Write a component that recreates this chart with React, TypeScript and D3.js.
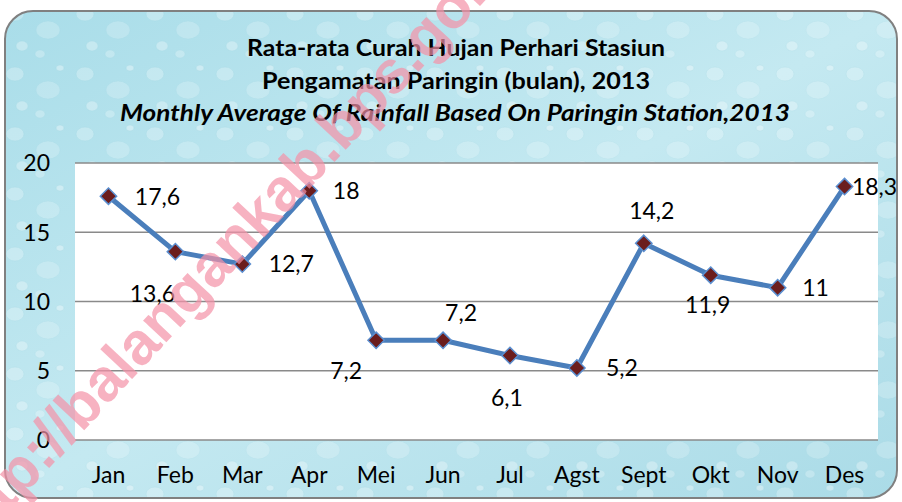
import React from "react";
import * as d3 from "d3";

const months = ["Jan", "Feb", "Mar", "Apr", "Mei", "Jun", "Jul", "Agst", "Sept", "Okt", "Nov", "Des"];
const rainfall = [17.6, 13.6, 12.7, 18, 7.2, 7.2, 6.1, 5.2, 14.2, 11.9, 11, 18.3];
const yTicks = [0, 5, 10, 15, 20];
const titleLines = [
  "Rata-rata Curah Hujan Perhari Stasiun",
  "Pengamatan Paringin (bulan), 2013",
];
const subtitle = "Monthly Average Of Rainfall Based On Paringin Station,2013";
const watermark = "http://balangankab.bps.go.id";

// label placement (layout only): offset of label centre from its point
const labelOffsets: [number, number][] = [
  [49, 0], [-23, 42], [49, 0], [37, 0], [-30, 30], [18, -28],
  [-3, 42], [45, 0], [8, -33], [-3, 30], [38, 0], [30, 0],
];

const W = 902;
const H = 502;
const plot = { left: 75, right: 878, top: 163, bottom: 440 };
const FONT = "Lato, 'Open Sans', sans-serif";

export default function App() {
  const x = d3.scaleBand<string>().domain(months).range([plot.left, plot.right]);
  const y = d3.scaleLinear().domain([0, 20]).range([plot.bottom, plot.top]);
  const cx = (m: string) => (x(m) as number) + x.bandwidth() / 2;
  const line = d3
    .line<number>()
    .x((_, i) => cx(months[i]))
    .y((d) => y(d));
  const fmt = (v: number) => String(v).replace(".", ",");
  const diamond = d3.symbol().type(d3.symbolDiamond2).size(170)();

  return (
    <svg
      width={W}
      height={H}
      style={{ position: "absolute", left: 0, top: 0, background: "#ffffff" }}
      fontFamily={FONT}
    >
      <defs>
        <linearGradient id="bg" x1="0" y1="0" x2="1" y2="1">
          <stop offset="0" stopColor="#a9dde9" />
          <stop offset="0.5" stopColor="#c4e9f1" />
          <stop offset="1" stopColor="#aadbe7" />
        </linearGradient>
        <pattern id="drops" width="70" height="60" patternUnits="userSpaceOnUse">
          <ellipse cx="15" cy="14" rx="9" ry="7" fill="#ffffff" opacity="0.25" stroke="#88c6d4" strokeOpacity="0.45" />
          <ellipse cx="48" cy="30" rx="12" ry="9" fill="#ffffff" opacity="0.2" stroke="#88c6d4" strokeOpacity="0.4" />
          <ellipse cx="22" cy="46" rx="6" ry="5" fill="#ffffff" opacity="0.3" stroke="#88c6d4" strokeOpacity="0.4" />
          <ellipse cx="60" cy="8" rx="4" ry="3" fill="#ffffff" opacity="0.35" stroke="#88c6d4" strokeOpacity="0.4" />
          <ellipse cx="40" cy="54" rx="5" ry="4" fill="#ffffff" opacity="0.25" stroke="#88c6d4" strokeOpacity="0.35" />
        </pattern>
      </defs>

      <rect x={5} y={11} width={892} height={487} rx={28} fill="url(#bg)" />
      <rect x={5} y={11} width={892} height={487} rx={28} fill="url(#drops)" />
      <rect x={5} y={11} width={892} height={487} rx={28} fill="none" stroke="#808080" strokeWidth={2} />

      {/* titles */}
      <text x={456} y={56} textAnchor="middle" fontWeight="bold" fontSize={23} fill="#000"
        textLength={418} lengthAdjust="spacingAndGlyphs">
        {titleLines[0]}
      </text>
      <text x={456} y={89} textAnchor="middle" fontWeight="bold" fontSize={23} fill="#000"
        textLength={388} lengthAdjust="spacingAndGlyphs">
        {titleLines[1]}
      </text>
      <text x={455} y={121} textAnchor="middle" fontWeight="bold" fontStyle="italic" fontSize={23} fill="#000"
        textLength={670} lengthAdjust="spacingAndGlyphs">
        {subtitle}
      </text>

      {/* plot area */}
      <rect x={plot.left} y={plot.top} width={plot.right - plot.left} height={plot.bottom - plot.top} fill="#ffffff" />
      {yTicks.map((t) => (
        <g key={t}>
          <line x1={plot.left} x2={plot.right} y1={y(t)} y2={y(t)} stroke="#8a8a8a" strokeWidth={1.6} />
          <text x={50} y={y(t)} dy="0.36em" textAnchor="end" fontSize={23} fill="#000">
            {t}
          </text>
        </g>
      ))}
      {months.map((m) => (
        <text key={m} x={cx(m)} y={483} textAnchor="middle" fontSize={23} fill="#000">
          {m}
        </text>
      ))}

      <path d={line(rainfall) || ""} fill="none" stroke="#4a7ebb" strokeWidth={5} strokeLinejoin="round" />
      {rainfall.map((v, i) => (
        <path
          key={i}
          d={diamond || ""}
          transform={`translate(${cx(months[i])},${y(v)})`}
          fill="#6b1d1d"
          stroke="#5b8fd0"
          strokeWidth={1.5}
        />
      ))}
      {rainfall.map((v, i) => (
        <text
          key={i}
          x={cx(months[i]) + labelOffsets[i][0]}
          y={y(v) + labelOffsets[i][1]}
          dy="0.36em"
          textAnchor="middle"
          fontSize={23}
          fill="#000"
        >
          {fmt(v)}
        </text>
      ))}

      {/* watermark */}
      <text
        transform="translate(-32,555) rotate(-47)"
        fontFamily="'Liberation Sans', Arial, sans-serif"
        fontWeight="bold"
        fontSize={60}
        fill="#f592a8"
        opacity={0.7}
      >
        {watermark}
      </text>
    </svg>
  );
}
